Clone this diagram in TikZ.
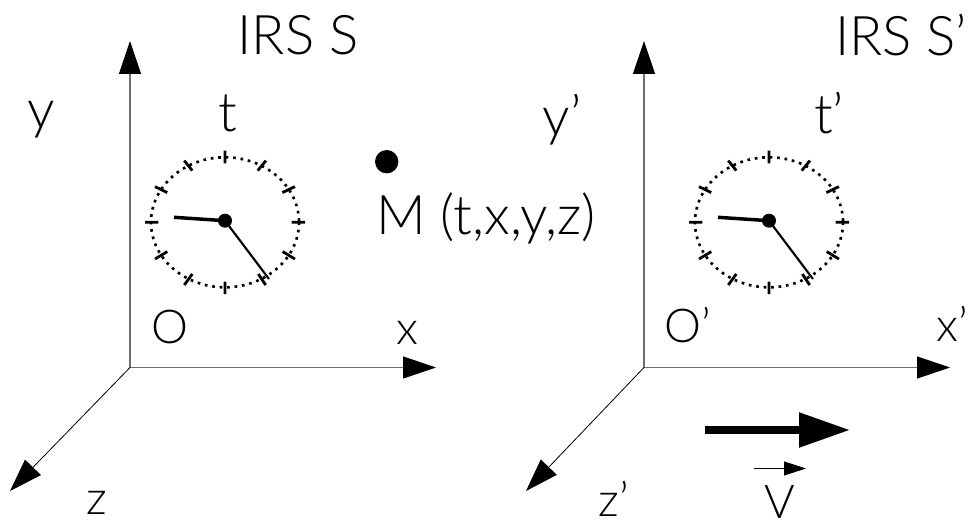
\documentclass[tikz,border=0pt]{standalone}
\usepackage{fontspec}
\setmainfont{Lato}[UprightFont=* Light]
\usetikzlibrary{arrows.meta}
\tikzset{every picture/.style={line width=0.75pt}}
\tikzset{
  axis/.style={color={rgb, 255:red, 110; green, 110; blue, 110 },line width=0.9pt,-{Triangle[length=24.75pt,width=16.5pt,color=black]}},
  axisz/.style={color=black,line width=0.6pt,-{Triangle[length=24.75pt,width=16.5pt,color=black]}},
  tick/.style={line width=2.1pt},
  rim/.style={line width=2pt,dash pattern=on 2pt off 3.6pt},
  hourhand/.style={line width=2.6pt},
  minutehand/.style={line width=1.6pt},
  hub/.style={circle,fill=black,inner sep=0pt,minimum size=10.5pt},
  lbl/.style={inner sep=0.75pt,font=\fontsize{41}{44}\selectfont},
  lblsmall/.style={inner sep=0pt,font=\fontsize{35}{36}\selectfont},
}
\begin{document}
\begin{tikzpicture}[x=0.75pt,y=0.75pt,yscale=-1,xscale=1]
\useasboundingbox (0,0) rectangle (971,528);

%Origins and axis ends
\coordinate (oS) at (130,367.5);
\coordinate (yS) at (130,41);
\coordinate (xS) at (436,367.5);
\coordinate (zS) at (10,491);
\coordinate (oP) at (644,367.5);
\coordinate (yP) at (644,41);
\coordinate (xP) at (950,367.5);
\coordinate (zP) at (526,491);
%Straight Lines
\draw [axis] (oS) -- (yS) ;
\draw [axis] (oS) -- (xS) ;
\draw [axisz] (oS) -- (zS) ;
%Straight Lines
\draw [axis] (oP) -- (yP) ;
\draw [axis] (oP) -- (xP) ;
\draw [axisz] (oP) -- (zP) ;

%Shape: Ellipse
\draw [rim] (225,222.3) ellipse (74 and 65) ;
\draw [rim] (769,222.3) ellipse (74 and 65) ;
%Straight Lines
\draw [tick] (225,150.6) -- (225,163.3) (257.7,170.6) -- (266,160.6) (282.3,192.6) -- (295,186.6)
  (291.7,222.3) -- (305,222.3) (282.7,251.6) -- (295,259) (258.3,274) -- (265.7,285)
  (225,281.6) -- (225,294) (192.3,274) -- (184.3,285) (167.3,251.6) -- (155,259)
  (158.3,222.3) -- (145,222.3) (167.3,192.6) -- (155,186.6) (192.3,170.6) -- (184.3,160.6) ;
%Straight Lines
\draw [tick] (769,150.6) -- (769,163.3) (801.7,170.6) -- (810,160.6) (826.3,192.6) -- (839,186.6)
  (835.7,222.3) -- (849,222.3) (826.7,251.6) -- (839,259) (802.3,274) -- (809.7,285)
  (769,281.6) -- (769,294) (736.3,274) -- (728.3,285) (711.3,251.6) -- (699,259)
  (702.3,222.3) -- (689,222.3) (711.3,192.6) -- (699,186.6) (736.3,170.6) -- (728.3,160.6) ;

%Clock hands
\node [hub] (hubS) at (225,220.7) {};
\node [hub] (hubP) at (769,220.7) {};
\coordinate (hourS) at (174,217.3);
\coordinate (minS) at (269,279);
\coordinate (hourP) at (718,217.3);
\coordinate (minP) at (813,279);
\draw [hourhand] (hubS.center) -- (hourS) ;
\draw [minutehand] (hubS.center) -- (minS) ;
\draw [hourhand] (hubP.center) -- (hourP) ;
\draw [minutehand] (hubP.center) -- (minP) ;

%Shape: Circle
\node [circle,fill=black,inner sep=0pt,minimum size=17.5pt] (pointM) at (386.7,161.7) {};

%Velocity arrows
\coordinate (vA) at (705,430);
\coordinate (vB) at (850,430);
\coordinate (vC) at (754,468.5);
\coordinate (vD) at (806,468.5);
\draw [line width=5.6pt,-{Triangle[length=38.25pt,width=25pt]}] (vA) -- (vB) ;
\draw [line width=0.6pt,-{Triangle[length=16.5pt,width=10.5pt]}] (vC) -- (vD) ;

% Text Node
\node [lbl] (irsS) at (298,35) {IRS S};
% Text Node
\node [lbl] (irsP) at (901,35) {IRS S'};
% Text Node
\node [lbl] (lblyS) at (41,120) {y};
% Text Node
\node [lbl] (lbltS) at (228,113) {t};
% Text Node
\node [lbl] (lblyP) at (562,120) {y'};
% Text Node
\node [lbl] (lbltP) at (829,113) {t'};
% Text Node
\node [lblsmall] (lbloS) at (170,327) {O};
% Text Node
\node [lblsmall] (lbloP) at (688,325) {O'};
% Text Node
\node [lblsmall] (lblxS) at (407,333) {x};
% Text Node
\node [lblsmall] (lblxP) at (952,324) {x'};
% Text Node
\node [lbl] (lblM) at (486,218) {M (t,x,y,z)};
% Text Node
\node [lblsmall] (lblzS) at (97,503) {z};
% Text Node
\node [lblsmall] (lblzP) at (614,499) {z'};
% Text Node
\node [lblsmall] (lblV) at (780,502) {V};

\end{tikzpicture}
\end{document}
